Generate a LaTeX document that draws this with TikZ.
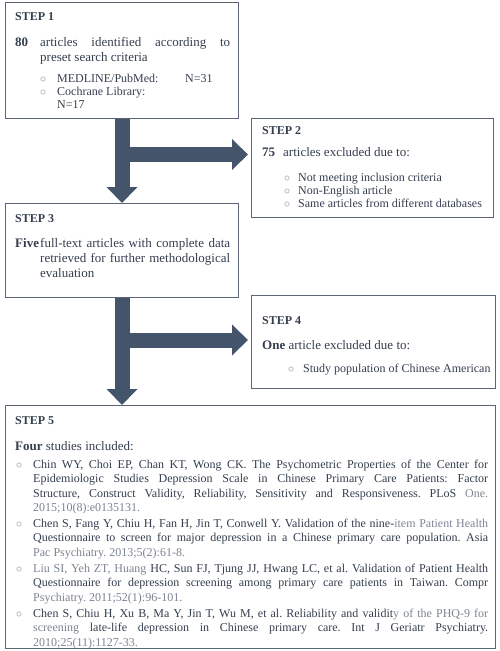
\documentclass[tikz,border=0pt]{standalone}
\usepackage{fontspec}
\setmainfont{Liberation Serif}
\usetikzlibrary{arrows.meta}
\definecolor{arrowblue}{HTML}{44546A}
\definecolor{boxgray}{HTML}{5B6577}
\definecolor{txt}{HTML}{343E4E}
\definecolor{txtl}{HTML}{7B8391}
\newcommand{\blt}{\textcolor{txtl}{$\circ$}}
\newcommand{\lt}[1]{\textcolor{txtl}{#1}}
\frenchspacing
\tolerance=10000 \hyphenpenalty=10000 \exhyphenpenalty=10000
\tikzset{
  stepbox/.style={draw=boxgray, line width=1pt, anchor=north west, inner sep=0},
  fat/.style={line width=15pt, arrowblue, -{Triangle[length=16pt,width=30pt]}},
  lbl/.style={anchor=base west, inner sep=0, text=txt},
  head/.style={lbl, font=\fontsize{12}{14}\selectfont\bfseries},
  big/.style={lbl, font=\fontsize{13}{15}\selectfont},
  small/.style={lbl, font=\fontsize{12}{13}\selectfont},
  refs/.style={lbl, font=\fontsize{12}{14.6}\selectfont},
}
\begin{document}
\begin{tikzpicture}[x=1pt, y=-1pt]
\useasboundingbox (0,0) rectangle (500,651);
\node[stepbox, minimum width=233pt, minimum height=116pt] (s1) at (5,2) {};
\node[stepbox, minimum width=242pt, minimum height=99pt] (s2) at (251,118) {};
\node[stepbox, minimum width=233pt, minimum height=94pt] (s3) at (5,203) {};
\node[stepbox, minimum width=244pt, minimum height=93pt] (s4) at (251,295) {};
\node[stepbox, minimum width=490pt, minimum height=243pt] (s5) at (5,405) {};

\draw[fat] (s1.south) -- (s3.north);
\coordinate (b1) at (121.5,154.5);
\draw[fat, shorten >=3pt] (b1) -- (b1 -| s2.west);
\draw[fat] (s3.south) -- (s3.south |- s5.north);
\coordinate (b2) at (121.5,340);
\draw[fat, shorten >=3pt] (b2) -- (b2 -| s4.west);

\node[head] (h1) at (15,20) {STEP 1};
\node[big] (n1) at (15,46) {\textbf{80}};
\node[big] (t1) at (40,46) {\parbox[t]{190pt}{articles identified according to\linebreak preset search criteria}};
\node[small] at (40,82) {\blt};
\node[small] (i11) at (57,82) {MEDLINE/PubMed:};
\node[small] at (185,82) {N=31};
\node[small] at (40,95) {\blt};
\node[small] (i12) at (57,95) {Cochrane Library:};
\node[small] at (57,108) {N=17};

\node[head] (h2) at (262,134) {STEP 2};
\node[big] (n2) at (262,156) {\textbf{75}};
\node[big] (t2) at (283,156) {articles excluded due to:};
\node[small] at (284,181) {\blt};
\node[small] (i21) at (298,181) {Not meeting inclusion criteria};
\node[small] at (284,194) {\blt};
\node[small] (i22) at (298,194) {Non-English article};
\node[small] at (284,207) {\blt};
\node[small] (i23) at (298,207) {Same articles from different databases};

\node[head] (h3) at (15,222) {STEP 3};
\node[big] (n3) at (15,247) {\textbf{Five}};
\node[big] (t3) at (40,247) {\parbox[t]{190pt}{full-text articles with complete data\linebreak retrieved for further methodological\linebreak evaluation}};

\node[head] (h4) at (262,324) {STEP 4};
\node[big] (t4) at (262,349) {\textbf{One} article excluded due to:};
\node[small] at (288,372) {\blt};
\node[small] (i41) at (303,372) {Study population of Chinese American};

\node[head] (h5) at (15,424) {STEP 5};
\node[big] (t5) at (15,450) {\textbf{Four} studies included:};
\node[refs] at (16,468) {\blt};
\node[refs] (r1) at (33,468) {\parbox[t]{455pt}{Chin WY, Choi EP, Chan KT, Wong CK. The Psychometric Properties of the Center for\linebreak Epidemiologic Studies Depression Scale in Chinese Primary Care Patients: Factor\linebreak Structure, Construct Validity, Reliability, Sensitivity and Responsiveness. PLoS \lt{One.}\linebreak \lt{2015;10(8):e0135131.}}};
\node[refs] at (16,527) {\blt};
\node[refs] (r2) at (33,527) {\parbox[t]{455pt}{Chen S, Fang Y, Chiu H, Fan H, Jin T, Conwell Y. Validation of the nine-\lt{item Patient Health}\linebreak Questionnaire to screen for major depression in a Chinese primary care population. Asia\linebreak \lt{Pac Psychiatry. 2013;5(2):61-8.}}};
\node[refs] at (16,572) {\blt};
\node[refs] (r3) at (33,572) {\parbox[t]{455pt}{\lt{Liu SI, Yeh ZT, Huang} HC, Sun FJ, Tjung JJ, Hwang LC, et al. Validation of Patient Health\linebreak Questionnaire for depression screening among primary care patients in Taiwan. Compr\linebreak \lt{Psychiatry. 2011;52(1):96-101.}}};
\node[refs] at (16,617) {\blt};
\node[refs] (r4) at (33,617) {\parbox[t]{455pt}{Chen S, Chiu H, Xu B, Ma Y, Jin T, Wu M, et al. Reliability and validit\lt{y of the PHQ-9 for}\linebreak \lt{screening} late-life depression in Chinese primary care. Int J Geriatr Psychiatry.\linebreak \lt{2010;25(11):1127-33.}}};
\end{tikzpicture}
\end{document}
